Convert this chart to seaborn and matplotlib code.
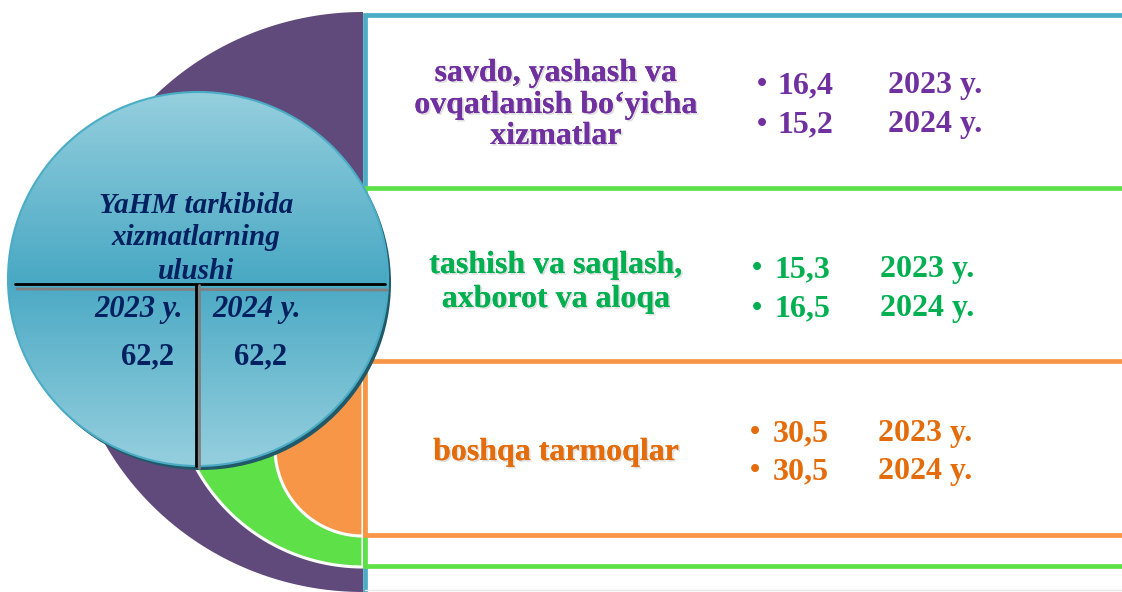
import numpy as np
import matplotlib
matplotlib.use("Agg")
from matplotlib import pyplot as plt
from matplotlib import patches
from matplotlib import patheffects as pe
from matplotlib.colors import LinearSegmentedColormap
import seaborn as sns

# --- data ---
sectorLines = [["savdo, yashash va", "ovqatlanish bo\u2018yicha", "xizmatlar"],
               ["tashish va saqlash,", "axborot va aloqa"],
               ["boshqa tarmoqlar"]]
share2023 = [16.4, 15.3, 30.5]
share2024 = [15.2, 16.5, 30.5]
years = ["2023 y.", "2024 y."]
total2023 = 62.2
total2024 = 62.2
centerTitle = ["YaHM tarkibida", "xizmatlarning", "ulushi"]

textColors = ["#7030A0", "#00B050", "#E46C0A"]
boxColors = ["#4BACC6", "#5EE048", "#F79646"]
purple = "#604A7B"
navy = "#002060"


def fmt(v):
    return f"{v:.1f}".replace(".", ",")


def halfEllipse(cx, cy, a, b, **kw):
    t = np.linspace(np.pi / 2, 3 * np.pi / 2, 200)
    pts = np.column_stack([cx + a * np.cos(t), cy + b * np.sin(t)])
    return patches.Polygon(pts, closed=True, **kw)


sns.set_theme(style="white")
plt.rcParams["font.family"] = ["Liberation Serif", "DejaVu Serif"]

fig = plt.figure(figsize=(11.22, 5.92), dpi=100)
ax = fig.add_axes([0, 0, 1, 1])
ax.set_xlim(0, 1122)
ax.set_ylim(592, 0)
ax.axis("off")

# nested half discs on the left of the boxes
ax.add_patch(halfEllipse(363, 302, 296, 290, facecolor=purple, edgecolor="none", zorder=1))
ax.add_patch(halfEllipse(363, 377, 190, 190, facecolor=boxColors[1], edgecolor="white", lw=2.2, zorder=2))
ax.add_patch(halfEllipse(363, 448, 88, 88, facecolor=boxColors[2], edgecolor="white", lw=2.2, zorder=3))

# boxes
boxTops = [15, 188, 361]
boxBottoms = [640, 566, 535]
for top, bottom, col, z in zip(boxTops, boxBottoms, boxColors, [4, 5, 6]):
    ax.add_patch(patches.Rectangle((365, top), 900, bottom - top, facecolor="white",
                                   edgecolor=col, lw=3.4, zorder=z))
ax.plot([365, 1122], [590, 590], color="#e8e8e8", lw=1, zorder=7)

# right hand texts
labelCenters = [[70, 102, 133], [262, 296], [449]]
valueRows = [[82, 121], [266, 305], [430, 468]]
bulletX = [762, 757, 755]
numX = [778, 775, 773]
yearX = [888, 880, 878]
shadow = [pe.withSimplePatchShadow(offset=(1.2, -1.2), shadow_rgbFace="#7f7f7f", alpha=0.25), pe.Normal()]
for i in range(3):
    for line, yc in zip(sectorLines[i], labelCenters[i]):
        ax.text(556, yc, line, color=textColors[i], fontsize=23, fontweight="bold",
                ha="center", va="center_baseline", zorder=10, path_effects=shadow)
    for yc, v, yr in zip(valueRows[i], [share2023[i], share2024[i]], years):
        ax.text(bulletX[i], yc, "\u2022", color=textColors[i], fontsize=21, fontweight="bold",
                ha="center", va="center_baseline", zorder=10)
        ax.text(numX[i], yc, fmt(v), color=textColors[i], fontsize=23, fontweight="bold",
                ha="left", va="center_baseline", zorder=10)
        ax.text(yearX[i], yc, yr, color=textColors[i], fontsize=23, fontweight="bold",
                ha="left", va="center_baseline", zorder=10)

# central circle with gradient
cx, cy, w, h = 198, 279, 380, 374
ax.add_patch(patches.Ellipse((cx + 3, cy + 4), w, h, facecolor="#215968", edgecolor="none", zorder=11))
circ = patches.Ellipse((cx, cy), w, h, facecolor="none", edgecolor="#4BACC6", lw=1.5, zorder=13)
ax.add_patch(circ)
cmap = LinearSegmentedColormap.from_list("blu", ["#95CFDE", "#4AA9C4", "#95CFDE"])
grad = np.linspace(0, 1, 256).reshape(-1, 1)
img = ax.imshow(grad, cmap=cmap, extent=[cx - w / 2, cx + w / 2, cy + h / 2, cy - h / 2],
                aspect="auto", zorder=12, interpolation="bilinear")
img.set_clip_path(circ)
ax.set_xlim(0, 1122)
ax.set_ylim(592, 0)

# dividers
ax.plot([17, 387], [289, 290], color="#808080", lw=2, zorder=14)
ax.plot([15, 385], [284, 284], color="black", lw=2, zorder=14)
ax.plot([199, 199], [285, 468], color="#808080", lw=2, zorder=14)
ax.plot([196, 196], [285, 466], color="black", lw=2, zorder=14)

for line, yb in zip(centerTitle, [213, 245, 279]):
    ax.text(196, yb, line, color=navy, fontsize=21, fontweight="bold", fontstyle="italic",
            ha="center", va="baseline", zorder=15)
ax.text(139, 317, years[0], color=navy, fontsize=22, fontweight="bold", fontstyle="italic",
        ha="center", va="baseline", zorder=15)
ax.text(257, 317, years[1], color=navy, fontsize=22, fontweight="bold", fontstyle="italic",
        ha="center", va="baseline", zorder=15)
ax.text(148, 364, fmt(total2023), color=navy, fontsize=22, fontweight="bold",
        ha="center", va="baseline", zorder=15)
ax.text(261, 364, fmt(total2024), color=navy, fontsize=22, fontweight="bold",
        ha="center", va="baseline", zorder=15)

fig.savefig("out.png", dpi=100)
